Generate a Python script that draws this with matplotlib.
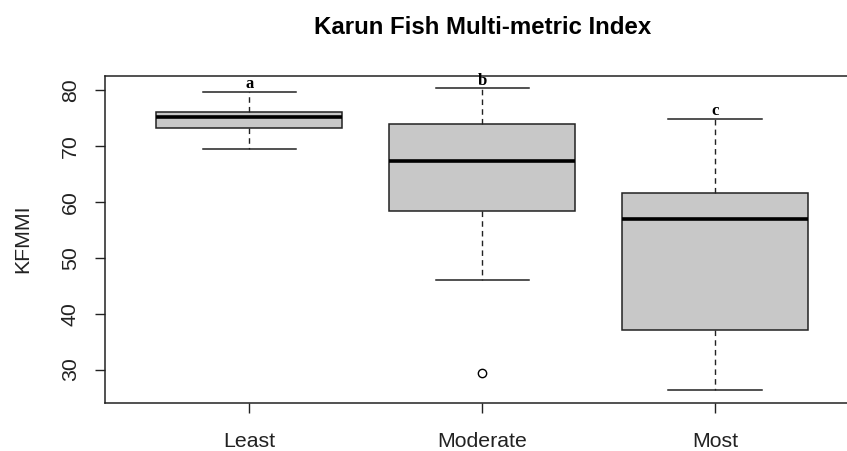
import matplotlib.pyplot as plt

# Box statistics
groups = ['Least', 'Moderate', 'Most']
whisker_low = [69.4, 46.1, 26.3]
q1 = [73.3, 58.3, 37.0]
medians = [75.2, 67.3, 56.9]
q3 = [76.0, 73.9, 61.6]
whisker_high = [79.7, 80.4, 74.9]
outliers = [[], [29.4], []]
letters = ['a', 'b', 'c']

W, H = 847, 451
fig = plt.figure(figsize=(W / 100, H / 100), dpi=100)
plt.rcParams['font.family'] = ['Liberation Sans', 'DejaVu Sans']

# axes runs past the right edge like the cropped original
left, right, top, bottom = 104.8, 859.5, 75.7, 402.7
ax = fig.add_axes([left / W, 1 - bottom / H, (right - left) / W, (bottom - top) / H])

stats = []
for i, g in enumerate(groups):
    stats.append(dict(label=g, whislo=whisker_low[i], q1=q1[i], med=medians[i],
                      q3=q3[i], whishi=whisker_high[i], fliers=outliers[i]))

ax.bxp(stats, positions=[1, 2, 3], widths=0.8, capwidths=0.4, patch_artist=True,
       boxprops=dict(facecolor='#c8c8c8', edgecolor='#222222', linewidth=1.1),
       medianprops=dict(color='black', linewidth=2.6, solid_capstyle='butt'),
       whiskerprops=dict(color='#222222', linewidth=1.0, linestyle=(0, (4, 3))),
       capprops=dict(color='#222222', linewidth=1.1),
       flierprops=dict(marker='o', markerfacecolor='white', markeredgecolor='black',
                       markersize=6, markeredgewidth=1.0))

for i, t in enumerate(letters):
    ax.text(i + 1, whisker_high[i] + 1.3, t, ha='center', va='center',
            family='Liberation Serif', fontweight='bold', fontsize=12)

ax.set_xlim(0.38, 3.62)
ax.set_ylim(24.08, 82.57)
ax.set_yticks([30, 40, 50, 60, 70, 80])
ax.set_xticks([1, 2, 3])
ax.set_xticklabels(groups)
ax.tick_params(axis='both', length=7, width=1, labelsize=15.3, color='#222222', labelcolor='#222222')
ax.tick_params(axis='y', pad=11)
ax.tick_params(axis='x', pad=14)
for lab in ax.get_yticklabels():
    lab.set_rotation(90)
    lab.set_va('center')

for s in ax.spines.values():
    s.set_color('#222222')
    s.set_linewidth(1.1)

ax.set_ylabel('KFMMI', fontsize=15.3, color='#222222')
ax.yaxis.label.set_va('center')
ax.yaxis.set_label_coords((23 - left) / (right - left), 0.5)
fig.text(483 / W, 1 - 28 / H, 'Karun Fish Multi-metric Index', ha='center', va='center',
         fontsize=17.3, fontweight='bold')

plt.savefig('out.png', dpi=100)
